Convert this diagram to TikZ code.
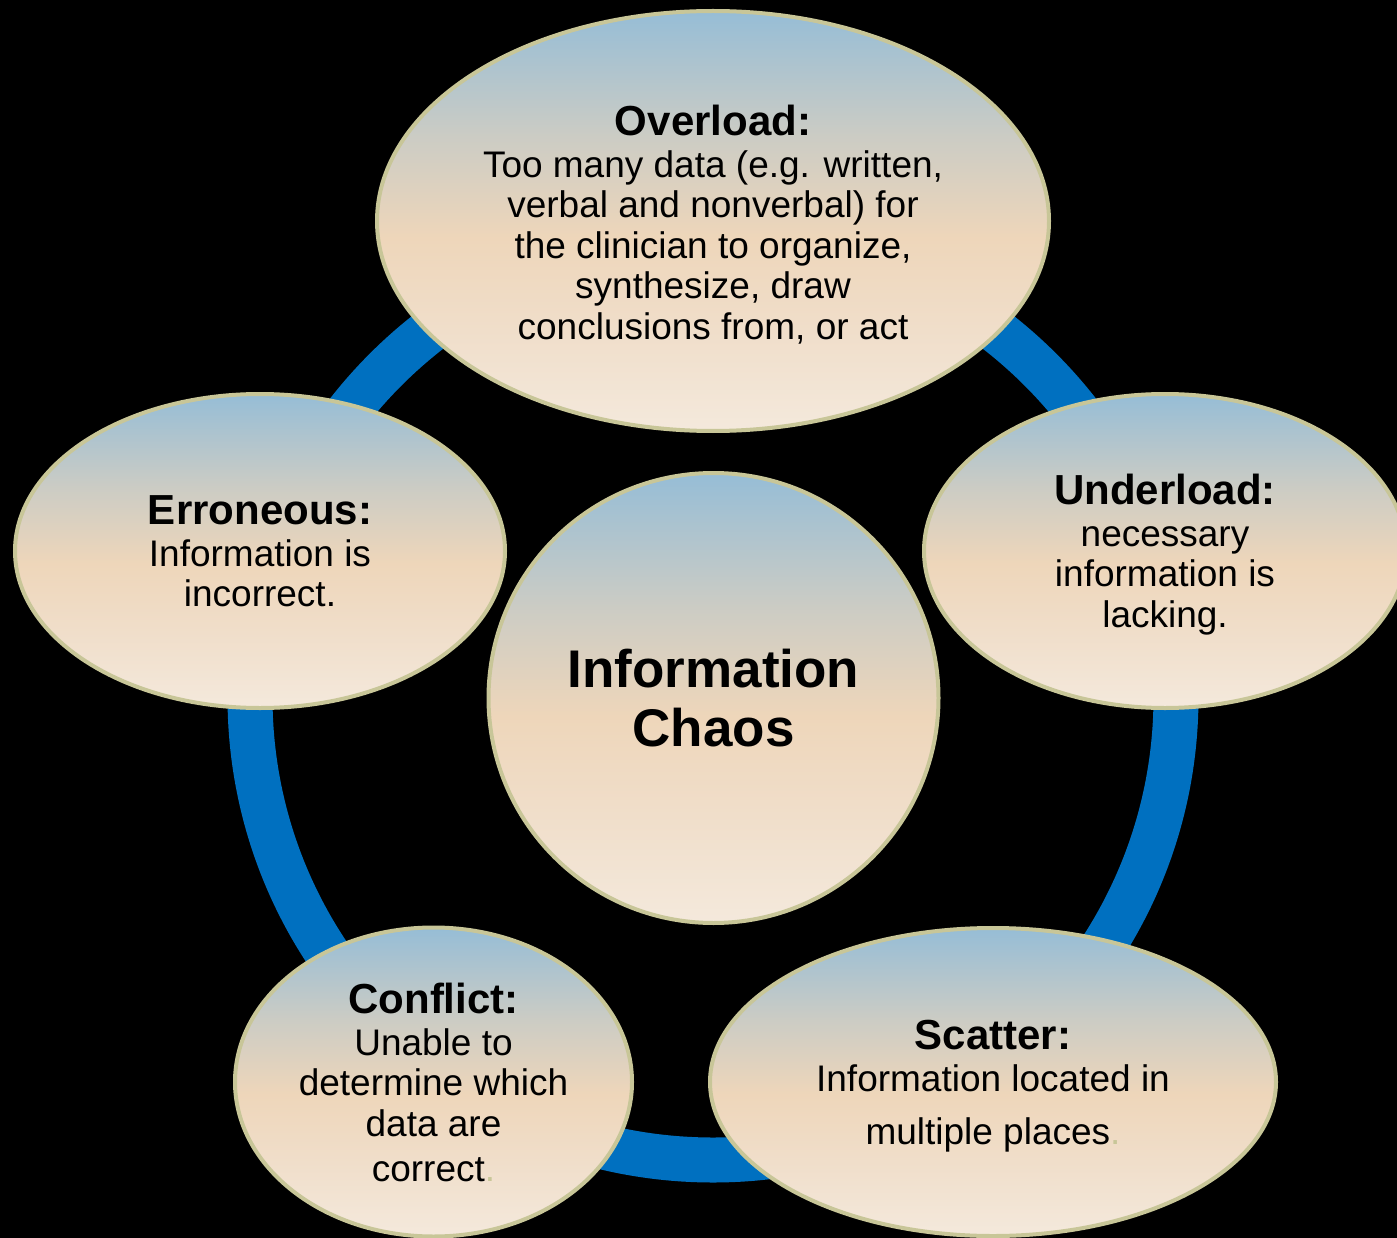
\documentclass[tikz,border=0pt]{standalone}
\usepackage{fontspec}
\setmainfont{Liberation Sans}
\usetikzlibrary{shapes.geometric}
\definecolor{ctop}{RGB}{150,189,214}
\definecolor{cgrey}{RGB}{204,204,196}
\definecolor{ctan}{RGB}{238,214,186}
\definecolor{ctanl}{RGB}{240,222,202}
\definecolor{cbot}{RGB}{244,233,220}
\definecolor{rim}{RGB}{200,198,152}
\definecolor{ringblue}{RGB}{0,112,192}
\pgfdeclareverticalshading{chaosfill}{100bp}{color(0bp)=(cbot); color(25bp)=(cbot); color(37bp)=(ctanl); color(48bp)=(ctan); color(60bp)=(cgrey); color(75bp)=(ctop); color(100bp)=(ctop)}
\tikzset{
  bubble/.style={ellipse, draw=rim, line width=4pt, shading=chaosfill, inner sep=0pt,
    align=center, text=black, font=\fontsize{37}{40.5}\selectfont},
}
\newcommand{\ttlx}[1]{{\bfseries\fontsize{42}{42}\selectfont #1}}
\newcommand{\ttly}[1]{{\rule{0pt}{37pt}\bfseries\fontsize{42}{42}\selectfont #1}}
\newcommand{\rimdot}{\textcolor{rim}{.}}
\begin{document}
\begin{tikzpicture}[x=1pt,y=-1pt]
\fill[black] (0,0) rectangle (1397,1238);
\useasboundingbox (0,0) rectangle (1397,1238);
\coordinate (ringc) at (713,697);
\draw[ringblue, line width=45pt] (ringc) circle[radius=463pt];
\node[bubble, minimum width=672pt, minimum height=420pt] (overload) at (713,221)
  {\ttly{Overload:}\\[1.5pt]Too many data (e.g. written,\\verbal and nonverbal) for\\the clinician to organize,\\synthesize, draw\\conclusions from, or act};
\node[bubble, minimum width=482pt, minimum height=314pt] (underload) at (1165,551)
  {\ttly{Underload:}\\[1.5pt]necessary\\information is\\lacking.};
\node[bubble, minimum width=490pt, minimum height=314pt] (erroneous) at (260,551)
  {\ttlx{Erroneous:}\\[1.5pt]Information is\\incorrect.};
\node[bubble, circle, minimum size=450pt, font=\bfseries\fontsize{53}{59}\selectfont] (chaos) at (713.5,698)
  {Information\\Chaos};
\node[bubble, minimum width=397pt, minimum height=309pt] (conflict) at (433.5,1082)
  {\ttlx{Conflict:}\\[1.5pt]Unable to\\determine which\\data are\\[4.5pt]correct\rimdot};
\node[bubble, minimum width=566pt, minimum height=308pt] (scatter) at (993,1082)
  {\ttly{Scatter:}\\[1.5pt]Information located in\\[12.5pt]multiple places\rimdot};
\end{tikzpicture}
\end{document}
